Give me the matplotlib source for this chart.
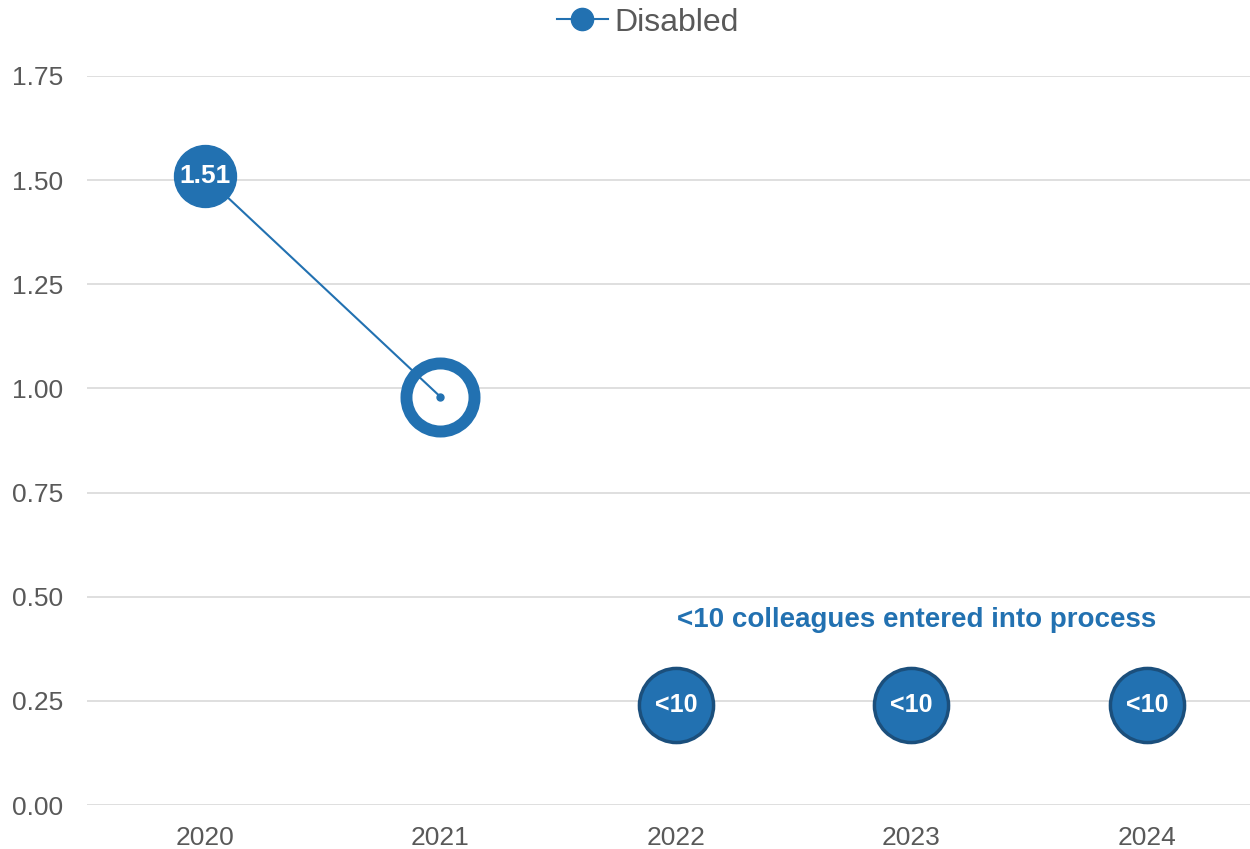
import matplotlib
matplotlib.use("Agg")
import matplotlib.pyplot as plt
from matplotlib.lines import Line2D

plt.rcParams['font.family'] = ['Liberation Sans', 'DejaVu Sans']

years = ['2020', '2021', '2022', '2023', '2024']
disabled = [1.51, 0.98]
disabled_labels = ['1.51', '0.98']
suppressed_years = [2, 3, 4]
suppressed_pos = [0.24, 0.24, 0.24]
suppressed_labels = ['<10', '<10', '<10']
yticks = [0.0, 0.25, 0.5, 0.75, 1.0, 1.25, 1.5, 1.75]

blue = '#2271b1'
dark_blue = '#1b4f7c'
grey_text = '#595959'

fig = plt.figure(figsize=(12.5, 8.49), dpi=100)
ax = fig.add_axes([0.0696, 0.0518, 0.9304, 0.8587])

x = list(range(len(disabled)))

# 2021 point shown as an open ring behind the line
ax.plot(x[1], disabled[1], marker='o', markersize=49, markerfacecolor='white',
        markeredgecolor=blue, markeredgewidth=8.6, linestyle='none', zorder=2)
ax.plot(x, disabled, color=blue, lw=1.5, zorder=3)
ax.plot(x[1], disabled[1], marker='o', markersize=5, color=blue, zorder=5)
ax.plot(x[0], disabled[0], marker='o', markersize=44.6, color=blue,
        linestyle='none', zorder=4)
ax.text(x[0], disabled[0], disabled_labels[0], color='white', fontsize=19,
        fontweight='bold', ha='center', va='center', zorder=6)

# years with fewer than ten colleagues
ax.scatter(suppressed_years, suppressed_pos, s=2850, color=blue,
           edgecolor=dark_blue, linewidth=2.5, zorder=4)
for xi, yi, lab in zip(suppressed_years, suppressed_pos, suppressed_labels):
    ax.text(xi, yi, lab, color='white', fontsize=18, fontweight='bold',
            ha='center', va='center', zorder=6)
ax.text(3.02, 0.445, '<10 colleagues entered into process', color=blue,
        fontsize=20, fontweight='bold', ha='center', va='center')

ax.set_xlim(-0.5, 4.437)
ax.set_ylim(0, 1.75)
ax.set_xticks(range(len(years)))
ax.set_xticklabels(years)
ax.set_yticks(yticks)
ax.set_yticklabels([f'{v:.2f}' for v in yticks])
ax.tick_params(length=0, labelsize=19, labelcolor=grey_text)
ax.tick_params(axis='y', pad=17)
ax.tick_params(axis='x', pad=15)
ax.grid(axis='y', color='#d9d9d9', lw=1.2)
ax.set_axisbelow(True)
for s in ax.spines.values():
    s.set_visible(False)

handle = Line2D([], [], color=blue, lw=1.5, marker='o', markersize=16)
fig.legend([handle], ['Disabled'], loc='upper center', bbox_to_anchor=(0.518, 1.025),
           frameon=False, fontsize=23, labelcolor=grey_text, handlelength=1.6,
           handletextpad=0.2)

fig.savefig('out.png', dpi=100)
